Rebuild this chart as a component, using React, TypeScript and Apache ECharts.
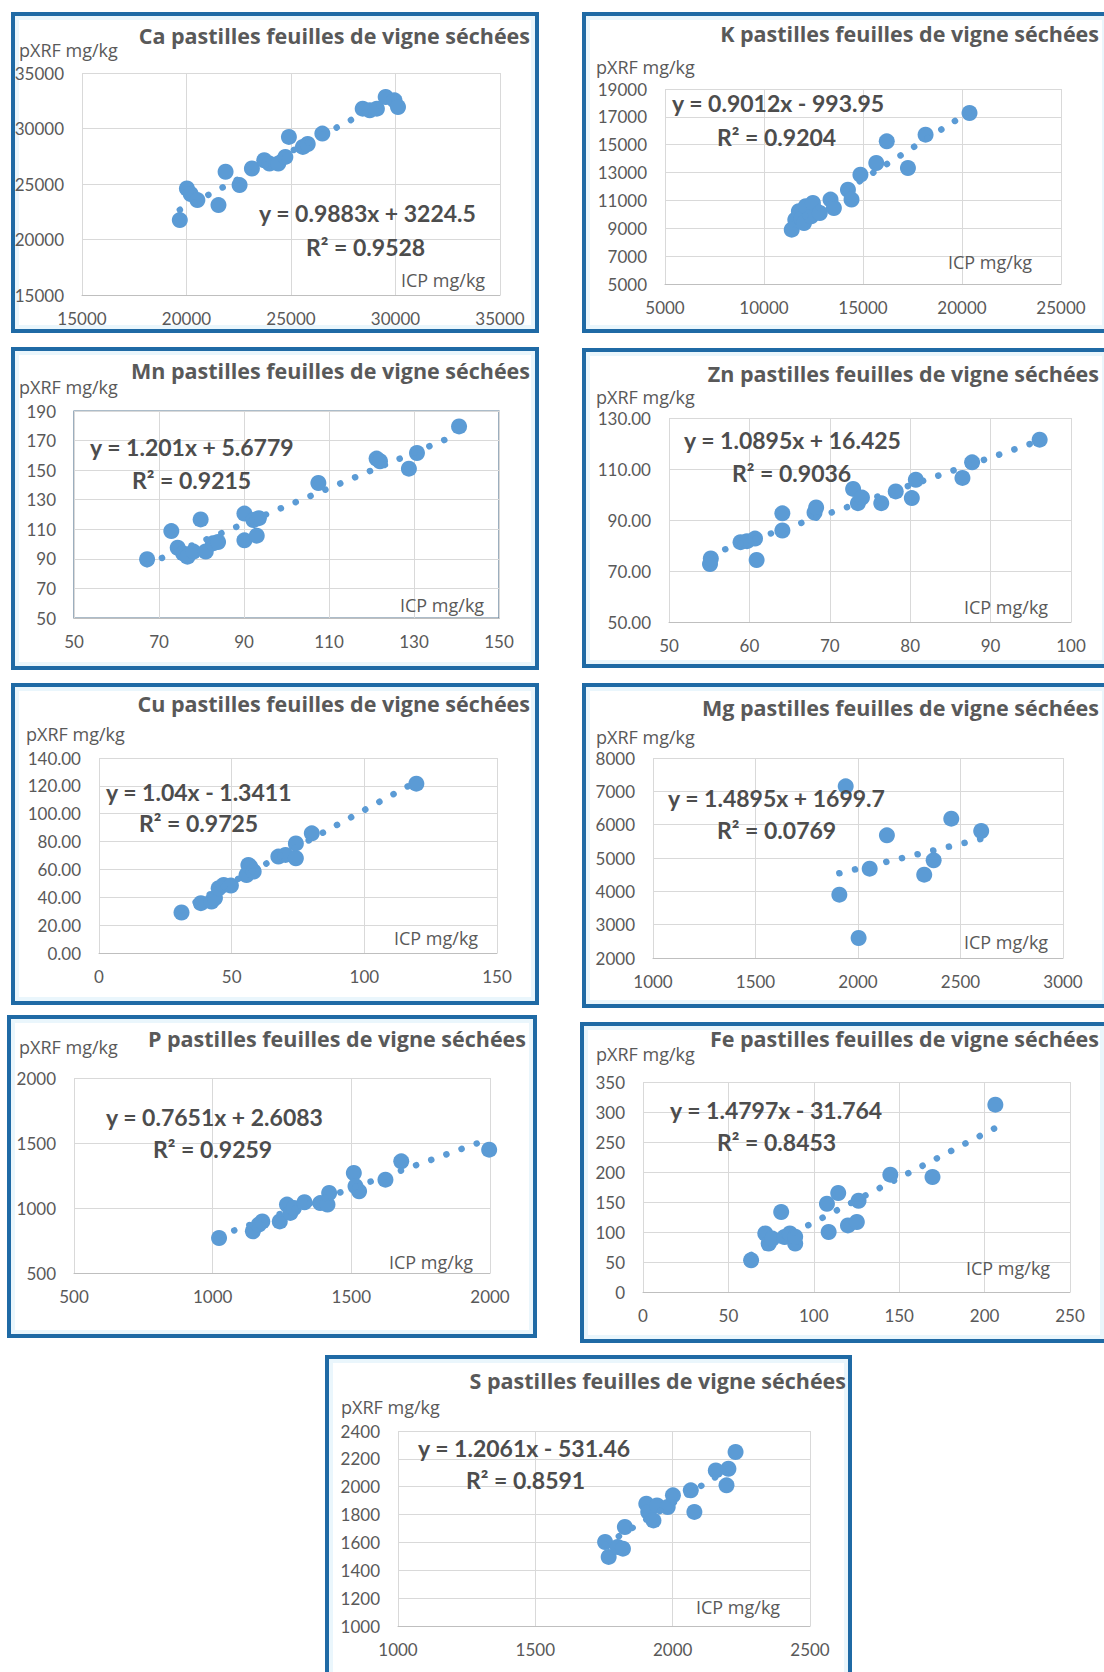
import React, { useEffect, useRef } from 'react';
import * as echarts from 'echarts';

// ---------- data (ICP mg/kg -> pXRF mg/kg) ----------
const caICP = [19680, 20020, 20200, 20520, 21530, 21870, 22540, 23130, 23720, 23970, 24390, 24730, 24900, 25570, 25800, 26500, 28430, 28770, 29110, 29530, 29950, 30120];
const caPXRF = [21750, 24600, 24100, 23550, 23100, 26100, 24900, 26400, 27140, 26840, 26840, 27440, 29240, 28340, 28600, 29540, 31790, 31640, 31790, 32840, 32540, 31940];

const kICP = [11400, 11580, 11760, 11900, 12020, 12110, 12380, 12470, 12820, 13360, 13530, 14240, 14420, 14870, 15670, 16200, 17270, 18160, 20380];
const kPXRF = [8900, 9620, 10220, 9700, 9380, 10580, 9860, 10820, 10100, 11060, 10460, 11770, 11060, 12850, 13690, 15240, 13330, 15720, 17280];

const mnICP = [67.2, 72.9, 74.4, 75.7, 76.7, 78.1, 79.8, 81.0, 82.7, 83.9, 90.1, 90.1, 92.2, 93.0, 93.5, 107.5, 121.2, 122.0, 128.8, 130.7, 140.6];
const mnPXRF = [89.7, 108.8, 97.5, 93.7, 91.5, 94.9, 116.7, 95.0, 100.5, 101.4, 120.6, 102.5, 116.2, 105.7, 117.5, 141.3, 157.8, 156.0, 151.0, 161.6, 179.6];

const znICP = [55.1, 55.2, 58.9, 59.7, 60.7, 60.9, 64.1, 64.1, 68.1, 68.3, 72.9, 73.5, 74.0, 76.4, 78.2, 80.2, 80.7, 86.5, 87.7, 96.1];
const znPXRF = [72.7, 74.9, 81.3, 81.7, 82.7, 74.3, 92.6, 85.9, 92.9, 94.9, 102.2, 96.6, 98.8, 96.6, 101.2, 98.6, 105.8, 106.5, 112.6, 121.5];

const cuICP = [31.1, 38.4, 42.4, 43.7, 45.1, 47.0, 49.7, 55.6, 56.3, 57.0, 58.3, 67.6, 70.3, 74.2, 74.2, 80.2, 119.6];
const cuPXRF = [29.1, 35.8, 37.0, 39.4, 46.5, 48.9, 48.4, 56.0, 63.2, 62.0, 58.5, 69.2, 70.4, 68.0, 78.7, 85.9, 121.6];

const mgICP = [1940, 2141, 2057, 1909, 2003, 2323, 2369, 2455, 2601];
const mgPXRF = [7150, 5680, 4680, 3900, 2600, 4500, 4930, 6180, 5810];

const pICP = [1023, 1145, 1166, 1179, 1242, 1268, 1280, 1293, 1331, 1388, 1414, 1420, 1509, 1515, 1528, 1623, 1680, 1997];
const pPXRF = [769, 821, 872, 897, 897, 1026, 962, 1000, 1044, 1038, 1026, 1115, 1269, 1167, 1128, 1218, 1359, 1449];

const feICP = [63.3, 71.6, 73.6, 75.7, 80.9, 82.9, 86.0, 89.1, 89.1, 108.7, 107.7, 114.3, 120.0, 125.2, 126.2, 144.8, 169.5, 206.3];
const fePXRF = [53, 97.5, 80.8, 89, 133.3, 91.7, 97.5, 80.8, 92, 100, 147, 165, 111, 116.7, 152, 195.6, 191.7, 312.2];

const sICP = [1754, 1767, 1800, 1819, 1826, 1904, 1911, 1930, 1943, 1982, 2001, 2066, 2079, 2157, 2196, 2203, 2229];
const sPXRF = [1603, 1496, 1567, 1555, 1711, 1878, 1819, 1758, 1866, 1854, 1938, 1974, 1819, 2117, 2010, 2129, 2249];

const elements = ['Ca', 'K', 'Mn', 'Zn', 'Cu', 'Mg', 'P', 'Fe', 'S'];
const icpValues = [caICP, kICP, mnICP, znICP, cuICP, mgICP, pICP, feICP, sICP];
const pxrfValues = [caPXRF, kPXRF, mnPXRF, znPXRF, cuPXRF, mgPXRF, pPXRF, fePXRF, sPXRF];
const titleSuffix = ' pastilles feuilles de vigne séchées';
const equations = ['y = 0.9883x + 3224.5', 'y = 0.9012x - 993.95', 'y = 1.201x + 5.6779', 'y = 1.0895x + 16.425', 'y = 1.04x - 1.3411', 'y = 1.4895x + 1699.7', 'y = 0.7651x + 2.6083', 'y = 1.4797x - 31.764', 'y = 1.2061x - 531.46'];
const r2Labels = ['R² = 0.9528', 'R² = 0.9204', 'R² = 0.9215', 'R² = 0.9036', 'R² = 0.9725', 'R² = 0.0769', 'R² = 0.9259', 'R² = 0.8453', 'R² = 0.8591'];
const slopes = [0.9883, 0.9012, 1.201, 1.0895, 1.04, 1.4895, 0.7651, 1.4797, 1.2061];
const intercepts = [3224.5, -993.95, 5.6779, 16.425, -1.3411, 1699.7, 2.6083, -31.764, -531.46];
const xMins = [15000, 5000, 50, 50, 0, 1000, 500, 0, 1000];
const xMaxs = [35000, 25000, 150, 100, 150, 3000, 2000, 250, 2500];
const xSteps = [5000, 5000, 20, 10, 50, 500, 500, 50, 500];
const yMins = [15000, 5000, 50, 50, 0, 2000, 500, 0, 1000];
const yMaxs = [35000, 19000, 190, 130, 140, 8000, 2000, 350, 2400];
const ySteps = [5000, 2000, 20, 20, 20, 1000, 500, 50, 200];
const yDecimals = [0, 0, 0, 2, 2, 0, 0, 0, 0];
const yAxisName = 'pXRF mg/kg';
const xAxisName = 'ICP mg/kg';

// ---------- layout ----------
// frame [x, y, w, h]
const frames = [
  [13, 14, 524, 317], [584, 14, 524, 317],
  [13, 349, 524, 319], [584, 350, 524, 316],
  [13, 685, 524, 318], [584, 685, 524, 321],
  [9, 1017, 526, 319], [582, 1024, 524, 317],
  [327, 1357, 523, 330],
];
// grid [left, top, width, height]
const grids = [
  [82, 73, 418, 222], [665, 89, 396, 195],
  [74, 411, 425, 207], [669, 418, 402, 204],
  [99, 758, 398, 195], [653, 758, 410, 200],
  [74, 1078, 416, 195], [643, 1082, 427, 210],
  [398, 1431, 412, 195],
];
// title right x, center y
const titlePos = [[530, 35], [1099, 33], [530, 370], [1099, 373], [530, 703], [1099, 707], [526, 1038], [1099, 1038], [846, 1380]];
const yNamePos = [[19, 50], [596, 67], [19, 387], [596, 397], [26, 734], [596, 737], [19, 1047], [596, 1054], [341, 1407]];
const xNamePos = [[401, 280], [948, 262], [400, 605], [964, 607], [394, 938], [964, 942], [389, 1262], [966, 1268], [696, 1607]];
const eqPos = [[259, 213], [672, 103], [90, 447], [684, 440], [106, 792], [668, 798], [106, 1117], [670, 1110], [418, 1448]];
const r2Pos = [[306, 247], [717, 137], [132, 480], [732, 473], [139, 823], [717, 830], [153, 1149], [717, 1142], [466, 1480]];

const FONT_NUM = 'Lato, "Open Sans", sans-serif';
const FONT_TXT = '"Open Sans", Lato, sans-serif';
const TEXT = '#595959';
const EQ = '#4d4d4d';
const BLUE = '#5B9BD5';
const FRAME = '#1f6aa5';

function buildOption() {
  const grid: any[] = [];
  const xAxis: any[] = [];
  const yAxis: any[] = [];
  const series: any[] = [];
  const graphic: any[] = [];

  elements.forEach((el, i) => {
    const g = grids[i];
    const gridObj: any = { left: g[0], top: g[1], width: g[2], height: g[3], containLabel: false };
    if (el === 'Mn') {
      gridObj.show = true;
      gridObj.borderColor = '#5b7a93';
      gridObj.borderWidth = 1.2;
      gridObj.backgroundColor = 'transparent';
    }
    grid.push(gridObj);
    xAxis.push({
      type: 'value', gridIndex: i, min: xMins[i], max: xMaxs[i], interval: xSteps[i], z: 20,
      axisLine: { show: true, lineStyle: { color: '#bfbfbf', width: 1 } },
      axisTick: { show: false },
      splitLine: { show: true, lineStyle: { color: '#d9d9d9', width: 1 } },
      axisLabel: { color: TEXT, fontFamily: FONT_NUM, fontSize: 17, margin: 15, formatter: (v: number) => String(v), showMinLabel: true, showMaxLabel: true },
    });
    const dec = yDecimals[i];
    yAxis.push({
      type: 'value', gridIndex: i, min: yMins[i], max: yMaxs[i], interval: ySteps[i], z: 20,
      axisLine: { show: false },
      axisTick: { show: false },
      splitLine: { show: true, lineStyle: { color: '#d9d9d9', width: 1 } },
      axisLabel: { color: TEXT, fontFamily: FONT_NUM, fontSize: 17, margin: 18, formatter: (v: number) => v.toFixed(dec), showMinLabel: true, showMaxLabel: true },
    });
    const xs = icpValues[i];
    const ys = pxrfValues[i];
    series.push({
      type: 'scatter', xAxisIndex: i, yAxisIndex: i, symbol: 'circle', symbolSize: 16,
      itemStyle: { color: BLUE, opacity: 1 },
      data: xs.map((x, k) => [x, ys[k]]),
      silent: true, z: 22,
    });
    const x0 = Math.min(...xs);
    const x1 = Math.max(...xs);
    series.push({
      type: 'line', xAxisIndex: i, yAxisIndex: i, showSymbol: false, symbol: 'none', silent: true, z: 23,
      lineStyle: { color: BLUE, width: 6.5, type: [0.1, 16], cap: 'round' },
      data: [[x0, slopes[i] * x0 + intercepts[i]], [x1, slopes[i] * x1 + intercepts[i]]],
    });

    const f = frames[i];
    graphic.push({
      type: 'rect', shape: { x: f[0] + 4, y: f[1] + 4, width: f[2] - 8, height: f[3] - 8 },
      style: { fill: 'none', stroke: '#eaf6fc', lineWidth: 4 }, z: 9, silent: true,
    });
    graphic.push({
      type: 'rect', shape: { x: f[0], y: f[1], width: f[2], height: f[3] },
      style: { fill: 'none', stroke: FRAME, lineWidth: 4 }, z: 10, silent: true,
    });
    graphic.push({
      type: 'text', x: titlePos[i][0], y: titlePos[i][1], z: 30, silent: true,
      style: { text: el + titleSuffix, fill: TEXT, fontFamily: FONT_TXT, fontSize: 21.5, fontWeight: 'bold', align: 'right', verticalAlign: 'middle' },
    });
    graphic.push({
      type: 'text', x: yNamePos[i][0], y: yNamePos[i][1], z: 30, silent: true,
      style: { text: yAxisName, fill: TEXT, fontFamily: FONT_TXT, fontSize: 18, align: 'left', verticalAlign: 'middle' },
    });
    graphic.push({
      type: 'text', x: xNamePos[i][0], y: xNamePos[i][1], z: 30, silent: true,
      style: { text: xAxisName, fill: TEXT, fontFamily: FONT_TXT, fontSize: 18, align: 'left', verticalAlign: 'middle' },
    });
    graphic.push({
      type: 'text', x: eqPos[i][0], y: eqPos[i][1], z: 30, silent: true,
      style: { text: equations[i], fill: EQ, fontFamily: FONT_NUM, fontSize: 23, fontWeight: 'bold', align: 'left', verticalAlign: 'middle' },
    });
    graphic.push({
      type: 'text', x: r2Pos[i][0], y: r2Pos[i][1], z: 30, silent: true,
      style: { text: r2Labels[i], fill: EQ, fontFamily: FONT_NUM, fontSize: 23, fontWeight: 'bold', align: 'left', verticalAlign: 'middle' },
    });
  });

  return { animation: false, backgroundColor: '#ffffff', grid, xAxis, yAxis, series, graphic };
}

export default function App() {
  const ref = useRef<HTMLDivElement>(null);
  useEffect(() => {
    if (!ref.current) return;
    const chart = echarts.init(ref.current, undefined, { renderer: 'svg' });
    chart.setOption(buildOption() as any);
    return () => chart.dispose();
  }, []);
  return (
    <div
      ref={ref}
      style={{ position: 'absolute', left: 0, top: 0, width: 1104, height: 1672, overflow: 'hidden', background: '#fff' }}
    />
  );
}
